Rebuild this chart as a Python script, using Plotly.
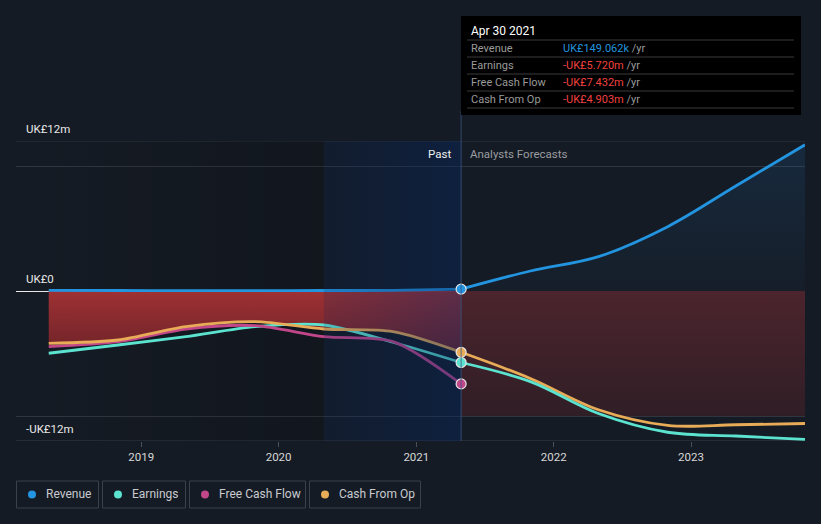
import plotly.graph_objects as go

# ---------------- data (UK£ millions) ----------------
past_dates = ["2018-04-30", "2018-10-31", "2019-04-30", "2019-10-31",
              "2020-04-30", "2020-10-31", "2021-04-30"]
past_revenue = [0.05, 0.04, 0.03, 0.03, 0.04, 0.05, 0.149]
past_earnings = [-4.98, -4.32, -3.65, -2.85, -2.72, -4.10, -5.72]
past_fcf = [-4.45, -4.05, -3.04, -2.77, -3.65, -4.05, -7.432]
past_cfo = [-4.19, -3.92, -2.85, -2.45, -3.04, -3.25, -4.903]

fc_dates = ["2021-04-30", "2021-10-31", "2022-04-30", "2022-10-31",
            "2023-04-30", "2023-10-31"]
fc_revenue = [0.149, 1.6, 2.75, 5.15, 8.4, 11.7]
fc_earnings = [-5.72, -7.25, -9.8, -11.3, -11.6, -11.87]
fc_cfo = [-4.903, -7.0, -9.5, -10.75, -10.7, -10.6]

x_ticks = ["2019-01-01", "2020-01-01", "2021-01-01", "2022-01-01", "2023-01-01"]
x_tick_text = ["2019", "2020", "2021", "2022", "2023"]
y_labels = [(12, "UK£12m"), (0, "UK£0"), (-12, "-UK£12m")]
y_grid = [-12, -10, 10, 12]

now_date = "2021-04-30"
highlight_start = "2020-04-30"
x_range = ["2018-02-02", "2023-10-31"]
y_range = [-12, 12]

tooltip_title = "Apr 30 2021"
tooltip_rows = [("Revenue", "UK£149.062k", "#2394df"),
                ("Earnings", "-UK£5.720m", "#f0413f"),
                ("Free Cash Flow", "-UK£7.432m", "#f0413f"),
                ("Cash From Op", "-UK£4.903m", "#f0413f")]

C_REV = "#2394df"
C_EARN = "#5ce3d0"
C_FCF = "#c2468a"
C_CFO = "#e8ab57"
BG = "#151b24"
GRID = "#30353f"
FONT = "Roboto"

fig = go.Figure()

# darker past background region
fig.add_trace(go.Scatter(
    x=[x_range[0], highlight_start, highlight_start, x_range[0]],
    y=[y_range[1], y_range[1], y_range[0], y_range[0]],
    fill="toself", mode="none", hoverinfo="skip", showlegend=False,
    fillgradient=dict(type="horizontal",
                      colorscale=[[0, "rgba(0,0,0,0.0)"], [1, "rgba(0,0,0,0.16)"]])))

# forecast loss band
fig.add_trace(go.Scatter(
    x=[fc_dates[0], fc_dates[-1]], y=[y_grid[1], y_grid[1]],
    fill="tozeroy", mode="none", hoverinfo="skip", showlegend=False,
    fillgradient=dict(type="vertical", start=-10, stop=0,
                      colorscale=[[0, "rgb(48,30,38)"], [1, "rgb(76,36,45)"]])))

# past negative area
fig.add_trace(go.Scatter(
    x=past_dates, y=past_cfo, fill="tozeroy", mode="none",
    line=dict(shape="spline", smoothing=0.8),
    hoverinfo="skip", showlegend=False,
    fillgradient=dict(type="vertical", start=-5.5, stop=0,
                      colorscale=[[0, "rgba(110,34,40,0.95)"], [1, "rgba(165,50,52,0.95)"]])))

# forecast revenue area
fig.add_trace(go.Scatter(
    x=fc_dates, y=fc_revenue, fill="tozeroy", mode="none",
    line=dict(shape="spline", smoothing=1.0),
    hoverinfo="skip", showlegend=False,
    fillgradient=dict(type="vertical", start=0, stop=12,
                      colorscale=[[0, "rgba(35,120,200,0.03)"], [1, "rgba(35,120,200,0.16)"]])))

LW = 2.8
def line(x, y, c, sm):
    fig.add_trace(go.Scatter(x=x, y=y, mode="lines", hoverinfo="skip", showlegend=False,
                             line=dict(color=c, width=LW, shape="spline", smoothing=sm)))

line(past_dates, past_earnings, C_EARN, 0.8)
line(past_dates, past_fcf, C_FCF, 0.8)
line(past_dates, past_cfo, C_CFO, 0.8)
line(past_dates, past_revenue, C_REV, 0.8)

# blue highlight overlay for the last year
fig.add_trace(go.Scatter(
    x=[highlight_start, now_date, now_date, highlight_start],
    y=[y_range[1], y_range[1], y_range[0], y_range[0]],
    fill="toself", mode="none", hoverinfo="skip", showlegend=False,
    fillgradient=dict(type="horizontal",
                      colorscale=[[0, "rgba(5,35,90,0.18)"], [1, "rgba(5,40,100,0.42)"]])))

line(fc_dates, fc_cfo, C_CFO, 1.0)
line(fc_dates, fc_earnings, C_EARN, 1.0)
line(fc_dates, fc_revenue, C_REV, 1.0)

# end-point markers
for yv, c in [(past_cfo[-1], C_CFO), (past_earnings[-1], C_EARN),
              (past_fcf[-1], C_FCF), (past_revenue[-1], C_REV)]:
    fig.add_trace(go.Scatter(x=[now_date], y=[yv], mode="markers", hoverinfo="skip",
                             showlegend=False,
                             marker=dict(size=10, color=c, line=dict(color="#e6e6e6", width=1.2))))

shapes = []
annotations = []

# edge grid lines at top and bottom of the plot
for yv in (y_range[0], y_range[1]):
    shapes.append(dict(type="line", xref="paper", yref="y", x0=0, x1=1, y0=yv, y1=yv,
                       line=dict(color=GRID if yv > 0 else "#383d47", width=1), layer="below"))

# now line
shapes.append(dict(type="line", xref="x", yref="paper", x0=now_date, x1=now_date,
                   y0=0, y1=1.1, line=dict(color="rgba(60,85,125,0.8)", width=1)))

# y labels
for yv, txt in y_labels:
    annotations.append(dict(x=0, xref="paper", y=yv, yref="y", text=txt, showarrow=False,
                            xanchor="left", yanchor="bottom", xshift=8, yshift=3,
                            font=dict(family=FONT, size=11.5, color="#e8e8e8")))

annotations.append(dict(x=now_date, xref="x", y=12, yref="y", text="Past", showarrow=False,
                        xanchor="right", yanchor="top", xshift=-8, yshift=-4,
                        font=dict(family=FONT, size=11.5, color="#f0f0f0")))
annotations.append(dict(x=now_date, xref="x", y=12, yref="y", text="Analysts Forecasts",
                        showarrow=False, xanchor="left", yanchor="top", xshift=7, yshift=-4,
                        font=dict(family=FONT, size=11.5, color="#9a9ca0")))

# tooltip box (paper coordinates: plot area x 16..805, y 141..441)
W, H = 821, 524
L, R, T, B = 16, 16, 141, 83
pw, ph = W - L - R, H - T - B
def px(x):
    return (x - L) / pw
def py(y):
    return (H - B - y) / ph

shapes.append(dict(type="rect", xref="paper", yref="paper",
                   x0=px(461), x1=px(801), y0=py(115), y1=py(16),
                   fillcolor="#000000", line=dict(width=0), layer="above"))
annotations.append(dict(x=px(469), y=py(31), xref="paper", yref="paper", text=tooltip_title,
                        showarrow=False, xanchor="left", yanchor="middle",
                        font=dict(family=FONT, size=12, color="#ffffff")))
for i, (lab, val, col) in enumerate(tooltip_rows):
    ysep = 40 + i * 17
    shapes.append(dict(type="line", xref="paper", yref="paper", x0=px(467), x1=px(794),
                       y0=py(ysep), y1=py(ysep), line=dict(color="#3a3a3a", width=1),
                       layer="above"))
    yc = ysep + 8.5
    annotations.append(dict(x=px(469), y=py(yc), xref="paper", yref="paper", text=lab,
                            showarrow=False, xanchor="left", yanchor="middle",
                            font=dict(family=FONT, size=11, color="#9a9a9a")))
    annotations.append(dict(x=px(561), y=py(yc), xref="paper", yref="paper",
                            text=f"<span style='color:{col}'>{val}</span> /yr",
                            showarrow=False, xanchor="left", yanchor="middle",
                            font=dict(family=FONT, size=11, color="#9a9a9a")))
shapes.append(dict(type="line", xref="paper", yref="paper", x0=px(467), x1=px(794),
                   y0=py(108), y1=py(108), line=dict(color="#3a3a3a", width=1), layer="above"))

# legend boxes
legend_items = [("Revenue", C_REV, 16, 98), ("Earnings", C_EARN, 102, 185),
                ("Free Cash Flow", C_FCF, 189, 305), ("Cash From Op", C_CFO, 309, 420)]
for name, col, x0, x1 in legend_items:
    shapes.append(dict(type="rect", xref="paper", yref="paper", x0=px(x0 + 0.5), x1=px(x1 + 0.5),
                       y0=py(508), y1=py(481), line=dict(color="#3b404a", width=1),
                       fillcolor="rgba(0,0,0,0)"))
    shapes.append(dict(type="circle", xref="paper", yref="paper",
                       x0=px(x0 + 12), x1=px(x0 + 20), y0=py(498.5), y1=py(490.5),
                       fillcolor=col, line=dict(width=0)))
    annotations.append(dict(x=px(x0 + 28), y=py(494.5), xref="paper", yref="paper", text=name,
                            showarrow=False, xanchor="left", yanchor="middle",
                            font=dict(family=FONT, size=12, color="#c8cacf")))

fig.update_layout(
    width=W, height=H,
    margin=dict(l=L, r=R, t=T, b=B),
    paper_bgcolor=BG, plot_bgcolor=BG,
    showlegend=False,
    shapes=shapes, annotations=annotations,
    font=dict(family=FONT),
    xaxis=dict(type="date", range=x_range, tickvals=x_ticks, ticktext=x_tick_text,
               showgrid=False, zeroline=False, showline=False,
               ticks="outside", ticklen=5, tickcolor="#4a4f58", tickwidth=1,
               tickfont=dict(family=FONT, size=11.5, color="#d8d8d8")),
    yaxis=dict(range=y_range, tickvals=y_grid, showticklabels=False,
               showgrid=True, gridcolor=GRID, gridwidth=1,
               zeroline=True, zerolinecolor="#f2e8e8", zerolinewidth=1.2,
               fixedrange=True),
)

fig.write_html("out.html")
